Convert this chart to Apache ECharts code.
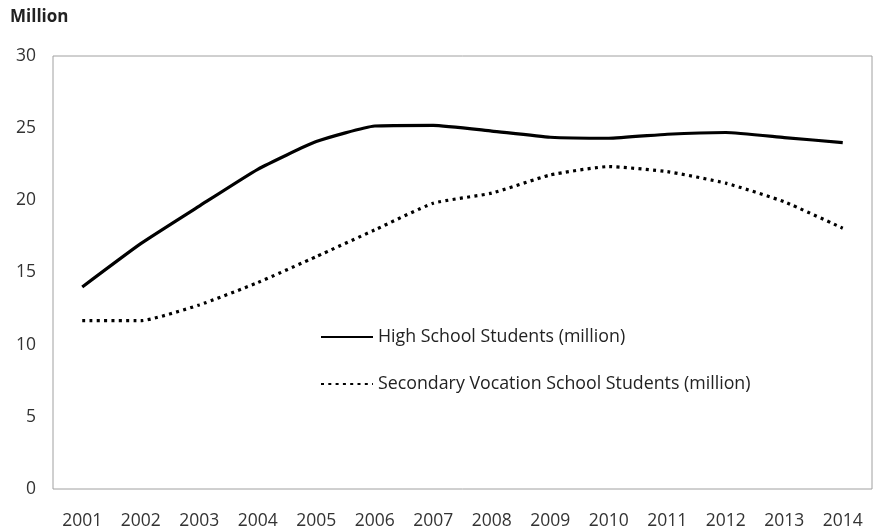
<!DOCTYPE html>
<html><head><meta charset="utf-8">
<script src="https://cdn.jsdelivr.net/npm/echarts@6/dist/echarts.min.js"></script>
<style>html,body{margin:0;padding:0;background:#fff}#c{width:875px;height:529px}</style>
</head><body><div id="c"></div>
<script>
const years = ['2001','2002','2003','2004','2005','2006','2007','2008','2009','2010','2011','2012','2013','2014'];
const highSchool = [14.0, 17.0, 19.6, 22.15, 24.07, 25.15, 25.2, 24.8, 24.37, 24.3, 24.58, 24.7, 24.35, 24.0];
const vocational = [11.66, 11.66, 12.75, 14.3, 16.1, 17.95, 19.8, 20.5, 21.76, 22.34, 21.99, 21.19, 19.9, 18.07];
const yTicks = [0, 5, 10, 15, 20, 25, 30];
const names = ['High School Students (million)', 'Secondary Vocation School Students (million)'];
const font = 'Open Sans';
const chart = echarts.init(document.getElementById('c'));
chart.setOption({
  animation: false,
  title: { text: 'Million', left: 5, top: 4, textStyle: { fontFamily: font, fontSize: 17, fontWeight: 'bold', color: '#222' } },
  grid: { left: 53, right: 3, top: 56, bottom: 40, show: true, borderColor: '#a0a0a0', borderWidth: 1, outerBoundsMode: 'none', containLabel: false },
  legend: {
    orient: 'vertical', left: 315, top: 323, itemWidth: 52, itemHeight: 14, itemGap: 29,
    itemStyle: { opacity: 0 },
    textStyle: { fontFamily: font, fontSize: 17.8, color: '#222' },
    data: names
  },
  xAxis: {
    type: 'category', data: years, boundaryGap: true,
    axisLine: { show: false }, axisTick: { show: false },
    axisLabel: { fontFamily: font, fontSize: 17.5, color: '#333', margin: 23 }
  },
  yAxis: {
    type: 'value', min: yTicks[0], max: yTicks[yTicks.length - 1], interval: 5,
    splitLine: { show: false }, axisLine: { show: false }, axisTick: { show: false },
    axisLabel: { fontFamily: font, fontSize: 17.5, color: '#333', margin: 17 }
  },
  series: [
    { name: names[0], type: 'line', data: highSchool, symbol: 'none', smooth: 0.15,
      lineStyle: { color: '#000', width: 3.2 }, itemStyle: { color: '#000' } },
    { name: names[1], type: 'line', data: vocational, symbol: 'none', smooth: 0.15,
      lineStyle: { color: '#000', width: 3.2, type: [3, 4.3] }, itemStyle: { color: '#000' } }
  ]
});
</script></body></html>
